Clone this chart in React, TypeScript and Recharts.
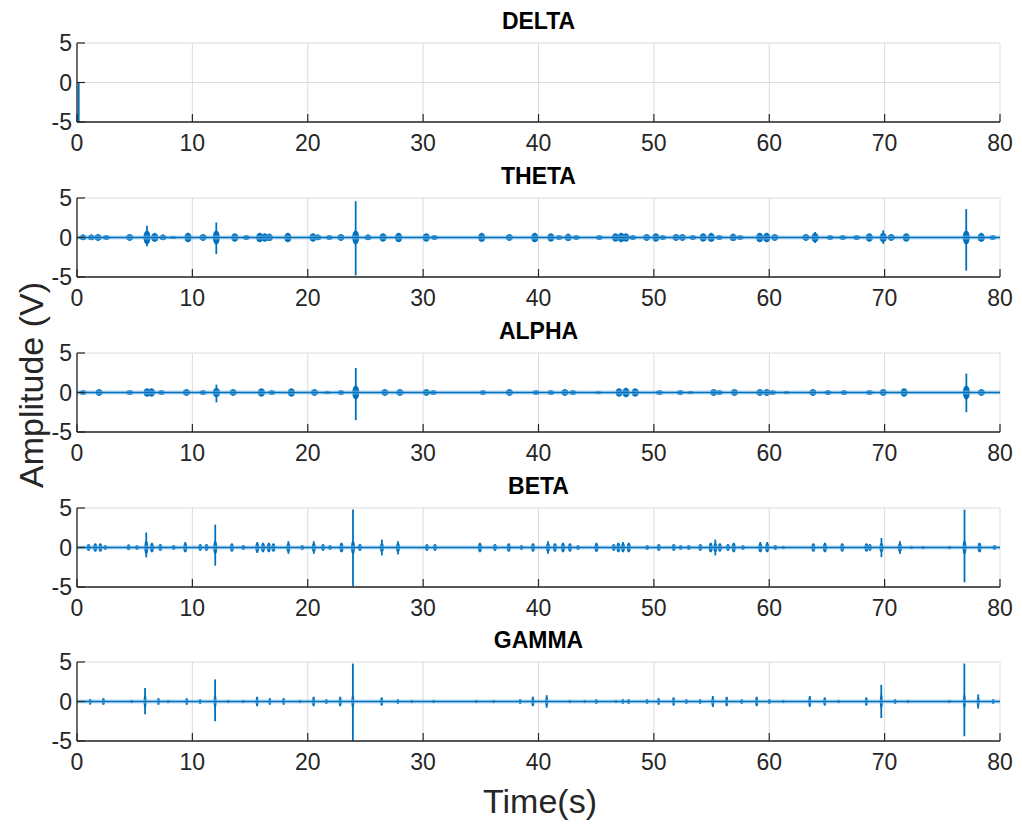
import React from 'react';
import { ComposedChart, Bar, XAxis, YAxis, CartesianGrid, ReferenceLine } from 'recharts';

// axis ticks shared by all five bands
const timeTicks = [0, 10, 20, 30, 40, 50, 60, 70, 80];
const ampTicks = [-5, 0, 5];

// each burst: time (s), upper and lower excursion (V)
const deltaTime = [0.15];
const deltaHigh = [0];
const deltaLow = [-5];

const thetaTime = [0.55, 1.27, 1.85, 2.57, 4.59, 6.09, 6.76, 7.48, 8.35, 9.65, 10.95, 12.1, 13.7, 14.7, 15.86, 16.3, 16.7, 18.3, 20.48, 20.9, 21.9, 22.9, 24.18, 25.25, 26.55, 27.9, 30.3, 31.0, 35.1, 37.5, 39.7, 41.1, 41.8, 42.6, 43.3, 45.3, 46.7, 47.2, 47.6, 48.2, 49.4, 50.2, 50.8, 51.95, 52.5, 53.4, 54.3, 55.0, 55.7, 56.9, 57.5, 59.2, 59.8, 60.5, 63.2, 64.0, 65.3, 66.4, 67.6, 68.7, 69.9, 70.6, 71.9, 77.1, 78.4, 79.4];
const thetaHigh = [0.4, 0.4, 0.4, 0.3, 0.4, 1.5, 0.6, 0.4, 0.2, 0.6, 0.4, 1.9, 0.5, 0.3, 0.6, 0.5, 0.5, 0.6, 0.5, 0.4, 0.3, 0.4, 4.6, 0.4, 0.5, 0.6, 0.5, 0.3, 0.6, 0.4, 0.6, 0.5, 0.3, 0.5, 0.3, 0.3, 0.5, 0.6, 0.5, 0.3, 0.4, 0.5, 0.3, 0.4, 0.4, 0.3, 0.5, 0.6, 0.3, 0.5, 0.3, 0.6, 0.6, 0.4, 0.4, 0.7, 0.3, 0.3, 0.3, 0.5, 0.9, 0.4, 0.5, 3.6, 0.6, 0.3];
const thetaLow = [-0.3, -0.3, -0.4, -0.3, -0.4, -1.1, -0.5, -0.3, -0.2, -0.6, -0.4, -2.1, -0.5, -0.3, -0.6, -0.5, -0.4, -0.6, -0.5, -0.3, -0.3, -0.4, -4.8, -0.3, -0.5, -0.6, -0.5, -0.3, -0.5, -0.4, -0.6, -0.5, -0.3, -0.4, -0.3, -0.3, -0.5, -0.6, -0.5, -0.3, -0.4, -0.5, -0.3, -0.4, -0.4, -0.3, -0.5, -0.5, -0.3, -0.4, -0.3, -0.6, -0.6, -0.4, -0.4, -0.7, -0.3, -0.3, -0.3, -0.5, -0.8, -0.4, -0.5, -4.2, -0.5, -0.3];

const alphaTime = [0.55, 1.93, 4.59, 6.09, 6.47, 7.33, 9.5, 10.95, 12.1, 13.55, 16.0, 16.9, 18.6, 20.6, 21.7, 22.9, 24.18, 26.7, 28.0, 30.3, 30.9, 35.2, 37.5, 39.8, 41.1, 42.3, 43.0, 45.2, 47.0, 47.6, 48.4, 50.5, 52.3, 53.2, 55.2, 55.7, 57.0, 59.2, 59.8, 60.3, 61.5, 63.8, 65.1, 66.5, 68.7, 69.9, 71.7, 77.1, 78.4];
const alphaHigh = [0.3, 0.4, 0.3, 0.5, 0.5, 0.3, 0.4, 0.3, 1.0, 0.4, 0.5, 0.3, 0.5, 0.4, 0.2, 0.3, 3.1, 0.4, 0.4, 0.4, 0.3, 0.3, 0.4, 0.3, 0.3, 0.4, 0.3, 0.2, 0.5, 0.6, 0.5, 0.3, 0.3, 0.2, 0.4, 0.3, 0.4, 0.4, 0.4, 0.3, 0.2, 0.4, 0.3, 0.3, 0.3, 0.4, 0.5, 2.4, 0.4];
const alphaLow = [-0.3, -0.4, -0.3, -0.5, -0.5, -0.3, -0.4, -0.3, -1.25, -0.4, -0.5, -0.3, -0.5, -0.4, -0.2, -0.3, -3.5, -0.4, -0.4, -0.4, -0.3, -0.3, -0.4, -0.3, -0.3, -0.4, -0.3, -0.2, -0.5, -0.6, -0.5, -0.3, -0.3, -0.2, -0.4, -0.3, -0.4, -0.4, -0.4, -0.3, -0.2, -0.4, -0.3, -0.3, -0.3, -0.4, -0.5, -2.5, -0.4];

const betaTime = [0.98, 1.56, 2.0, 2.43, 4.45, 5.17, 5.98, 6.47, 7.2, 8.35, 9.36, 10.66, 11.2, 11.96, 13.4, 14.4, 15.6, 16.1, 16.6, 17.0, 18.3, 19.5, 20.5, 21.3, 21.9, 22.9, 23.9, 24.5, 26.4, 27.8, 30.3, 31.0, 34.9, 36.2, 37.4, 38.5, 39.5, 40.8, 41.4, 42.1, 42.7, 43.4, 45.0, 46.5, 46.9, 47.3, 47.8, 49.4, 50.4, 51.7, 52.3, 53.0, 54.0, 54.9, 55.3, 55.7, 56.4, 56.9, 57.7, 59.2, 59.8, 60.5, 61.2, 63.8, 64.8, 66.3, 68.4, 68.7, 69.7, 71.3, 72.3, 73.3, 75.6, 76.9, 78.2, 79.5];
const betaHigh = [0.4, 0.5, 0.5, 0.3, 0.4, 0.3, 1.9, 0.6, 0.4, 0.3, 0.7, 0.4, 0.4, 2.9, 0.5, 0.3, 0.7, 0.6, 0.6, 0.5, 0.8, 0.3, 0.8, 0.4, 0.3, 0.6, 4.8, 0.4, 1.0, 0.8, 0.4, 0.4, 0.6, 0.4, 0.5, 0.3, 0.5, 0.8, 0.5, 0.6, 0.5, 0.3, 0.6, 0.4, 0.6, 0.7, 0.6, 0.3, 0.4, 0.4, 0.3, 0.3, 0.4, 0.6, 1.0, 0.5, 0.4, 0.6, 0.3, 0.7, 0.7, 0.3, 0.2, 0.5, 0.6, 0.5, 0.5, 0.4, 1.2, 0.8, 0.2, 0.2, 0.2, 4.8, 0.6, 0.3];
const betaLow = [-0.4, -0.5, -0.5, -0.3, -0.3, -0.3, -1.25, -0.6, -0.4, -0.3, -0.6, -0.4, -0.4, -2.3, -0.5, -0.3, -0.7, -0.6, -0.6, -0.5, -0.8, -0.3, -0.8, -0.4, -0.3, -0.6, -4.9, -0.4, -1.0, -0.9, -0.4, -0.4, -0.6, -0.4, -0.5, -0.3, -0.5, -0.8, -0.5, -0.6, -0.5, -0.3, -0.5, -0.4, -0.6, -0.6, -0.6, -0.3, -0.4, -0.4, -0.3, -0.3, -0.4, -0.6, -1.0, -0.5, -0.4, -0.6, -0.3, -0.6, -0.6, -0.3, -0.2, -0.5, -0.6, -0.5, -0.5, -0.4, -1.2, -0.8, -0.2, -0.2, -0.2, -4.4, -0.6, -0.3];

const gammaTime = [1.13, 2.28, 4.73, 5.89, 7.05, 7.9, 9.5, 10.66, 11.96, 13.1, 14.4, 15.6, 16.7, 17.9, 19.3, 20.5, 21.6, 22.8, 23.9, 26.4, 27.8, 29.0, 30.9, 34.6, 36.1, 38.4, 39.5, 40.7, 42.7, 44.0, 45.0, 46.7, 47.3, 47.8, 49.4, 50.4, 51.7, 52.8, 54.0, 55.1, 56.3, 57.6, 58.9, 60.0, 61.2, 63.5, 64.8, 66.0, 68.4, 69.7, 70.9, 72.0, 75.6, 76.9, 78.1, 79.4];
const gammaHigh = [0.3, 0.4, 0.2, 1.7, 0.4, 0.2, 0.4, 0.3, 2.8, 0.2, 0.2, 0.6, 0.4, 0.4, 0.2, 0.6, 0.3, 0.6, 4.8, 0.5, 0.3, 0.2, 0.2, 0.2, 0.2, 0.3, 0.6, 0.8, 0.2, 0.2, 0.3, 0.2, 0.3, 0.3, 0.3, 0.4, 0.5, 0.3, 0.3, 0.7, 0.6, 0.3, 0.6, 0.3, 0.2, 0.7, 0.5, 0.2, 0.5, 2.1, 0.3, 0.2, 0.2, 4.8, 0.9, 0.3];
const gammaLow = [-0.4, -0.4, -0.2, -1.6, -0.4, -0.2, -0.4, -0.3, -2.5, -0.2, -0.2, -0.6, -0.4, -0.4, -0.2, -0.6, -0.3, -0.6, -5.0, -0.5, -0.3, -0.2, -0.2, -0.2, -0.2, -0.3, -0.6, -0.8, -0.2, -0.2, -0.3, -0.2, -0.3, -0.3, -0.3, -0.4, -0.5, -0.3, -0.3, -0.7, -0.6, -0.3, -0.6, -0.3, -0.2, -0.7, -0.5, -0.2, -0.5, -2.1, -0.3, -0.2, -0.2, -4.4, -0.9, -0.3];

const BLUE = '#0072BD';
const INK = '#262626';
const FONT = '"Liberation Sans", Arial, Helvetica, sans-serif';

const PLOT_LEFT = 77;
const PLOT_RIGHT = 1000;
const TOP_PAD = 43;
const PLOT_H = 79;
const BOTTOM_PAD = 33;
const TICK_LEN = 8;

const toRows = (time: number[], high: number[], low: number[]) =>
  time.map((t, i) => ({ t, range: [low[i], high[i]] }));

const panels = [
  { title: 'DELTA', rows: toRows(deltaTime, deltaHigh, deltaLow), blob: 0, baseline: false, top: 0 },
  { title: 'THETA', rows: toRows(thetaTime, thetaHigh, thetaLow), blob: 3.5, baseline: true, top: 155 },
  { title: 'ALPHA', rows: toRows(alphaTime, alphaHigh, alphaLow), blob: 3.5, baseline: true, top: 310 },
  { title: 'BETA', rows: toRows(betaTime, betaHigh, betaLow), blob: 2, baseline: true, top: 465 },
  { title: 'GAMMA', rows: toRows(gammaTime, gammaHigh, gammaLow), blob: 1.5, baseline: true, top: 619 },
];

// spike from low to high plus a spindle where it crosses zero
const Burst = (p: any) => {
  const { x, y, width, height, payload, blob } = p;
  if (x == null || y == null || !payload) return null;
  const cx = x + width / 2;
  const top = Math.min(y, y + height);
  const h = Math.abs(height);
  const [lo, hi] = payload.range;
  const y0 = top + (h * hi) / (hi - lo);
  const ry = Math.min(h / 2, h > 20 ? 7 : 4.5);
  return (
    <g>
      <line x1={cx} x2={cx} y1={top} y2={top + h} stroke={BLUE} strokeWidth={1.8} />
      {blob > 0 && hi > 0 && lo < 0 && <ellipse cx={cx} cy={y0} rx={blob} ry={ry} fill={BLUE} />}
    </g>
  );
};

const BottomTick = ({ x, y, payload }: any) => (
  <g>
    <line x1={x} x2={x} y1={y} y2={y - TICK_LEN} stroke={INK} strokeWidth={1.2} />
    <text x={x} y={y + 29} textAnchor="middle" fontSize={23} fill={INK} fontFamily={FONT}>
      {payload.value}
    </text>
  </g>
);

const TopTick = ({ x, y }: any) => (
  <line x1={x} x2={x} y1={y} y2={y + TICK_LEN} stroke={INK} strokeWidth={1.2} />
);

const LeftTick = ({ x, y, payload }: any) => (
  <g>
    <line x1={x} x2={x + TICK_LEN} y1={y} y2={y} stroke={INK} strokeWidth={1.2} />
    <text x={x - 5} y={y + 8} textAnchor="end" fontSize={23} fill={INK} fontFamily={FONT}>
      {payload.value}
    </text>
  </g>
);

const RightTick = ({ x, y }: any) => (
  <line x1={x} x2={x - TICK_LEN} y1={y} y2={y} stroke={INK} strokeWidth={1.2} />
);

function Panel({ title, rows, blob, baseline, top }: any) {
  return (
    <div style={{ position: 'absolute', left: 0, top, width: 1022, height: TOP_PAD + PLOT_H + BOTTOM_PAD }}>
      <div
        style={{
          position: 'absolute',
          left: PLOT_LEFT,
          width: PLOT_RIGHT - PLOT_LEFT,
          top: 9,
          lineHeight: '24px',
          textAlign: 'center',
          fontWeight: 'bold',
          fontSize: 23,
          color: '#000',
          fontFamily: FONT,
        }}
      >
        {title}
      </div>
      <ComposedChart
        width={1022}
        height={TOP_PAD + PLOT_H + BOTTOM_PAD}
        data={rows}
        margin={{ top: TOP_PAD, right: 1022 - PLOT_RIGHT, bottom: 0, left: 0 }}
      >
        <CartesianGrid xAxisId="b" yAxisId="l" stroke="#dcdcdc" strokeWidth={1} />
        <XAxis
          xAxisId="b"
          dataKey="t"
          type="number"
          domain={[0, 80]}
          ticks={timeTicks}
          interval={0}
          allowDataOverflow
          height={BOTTOM_PAD}
          tickSize={0}
          tickMargin={0}
          tickLine={false}
          axisLine={{ stroke: INK, strokeWidth: 1.3 }}
          tick={BottomTick}
        />
        <XAxis
          xAxisId="t"
          orientation="top"
          dataKey="t"
          type="number"
          domain={[0, 80]}
          ticks={timeTicks}
          interval={0}
          allowDataOverflow
          height={0}
          tickSize={0}
          tickMargin={0}
          tickLine={false}
          axisLine={{ stroke: INK, strokeWidth: 1.3 }}
          tick={TopTick}
        />
        <YAxis
          yAxisId="l"
          type="number"
          domain={[-5, 5]}
          ticks={ampTicks}
          interval={0}
          allowDataOverflow
          width={PLOT_LEFT}
          tickSize={0}
          tickMargin={0}
          tickLine={false}
          axisLine={{ stroke: INK, strokeWidth: 1.3 }}
          tick={LeftTick}
        />
        <YAxis
          yAxisId="r"
          orientation="right"
          type="number"
          domain={[-5, 5]}
          ticks={ampTicks}
          interval={0}
          allowDataOverflow
          width={0}
          tickSize={0}
          tickMargin={0}
          tickLine={false}
          axisLine={{ stroke: INK, strokeWidth: 1.3 }}
          tick={RightTick}
        />
        {baseline && (
          <ReferenceLine xAxisId="b" yAxisId="l" y={0} stroke="#8cc3ea" strokeOpacity={0.6} strokeWidth={4} />
        )}
        {baseline && <ReferenceLine xAxisId="b" yAxisId="l" y={0} stroke={BLUE} strokeWidth={1.5} />}
        <Bar
          xAxisId="b"
          yAxisId="l"
          dataKey="range"
          barSize={2}
          isAnimationActive={false}
          shape={(p: any) => <Burst {...p} blob={blob} />}
        />
      </ComposedChart>
    </div>
  );
}

export default function App() {
  return (
    <div
      style={{
        position: 'absolute',
        left: 0,
        top: 0,
        width: 1022,
        height: 826,
        background: '#fff',
        fontFamily: FONT,
        overflow: 'hidden',
      }}
    >
      {panels.map((p) => (
        <Panel key={p.title} {...p} />
      ))}
      <svg width={1022} height={826} style={{ position: 'absolute', left: 0, top: 0, pointerEvents: 'none' }}>
        <text
          transform="translate(31,385) rotate(-90)"
          textAnchor="middle"
          dominantBaseline="central"
          fontSize={34}
          fill={INK}
          fontFamily={FONT}
        >
          Amplitude (V)
        </text>
        <text x={540} y={813} textAnchor="middle" fontSize={34} fill={INK} fontFamily={FONT}>
          Time(s)
        </text>
      </svg>
    </div>
  );
}
